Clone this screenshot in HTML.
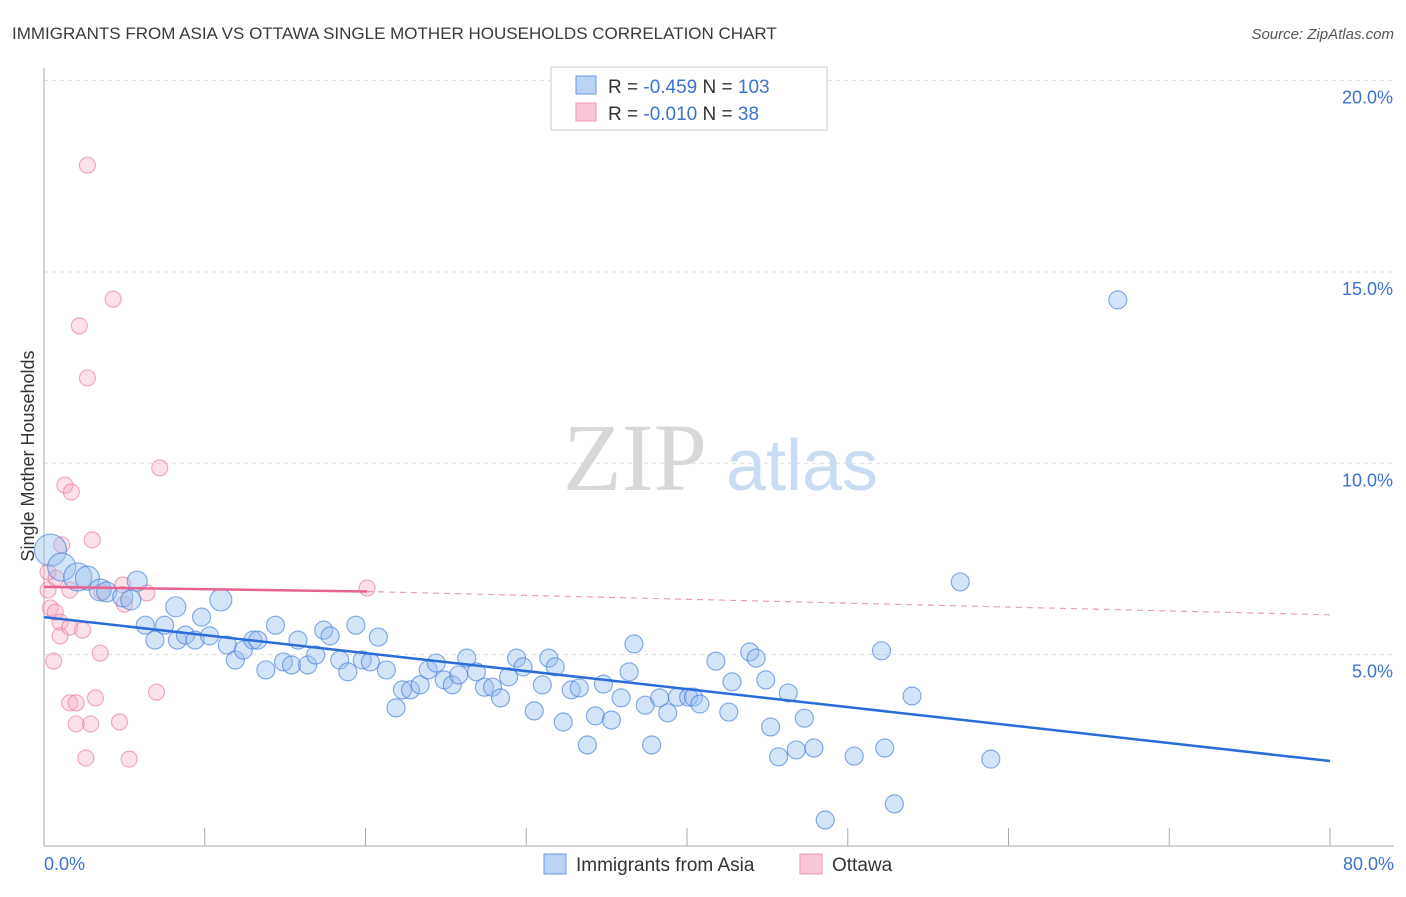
<!DOCTYPE html>
<html><head><meta charset="utf-8"><style>
body{margin:0;background:#fff;font-family:"Liberation Sans",sans-serif}
</style></head><body>
<svg id="c" width="1406" height="892" xmlns="http://www.w3.org/2000/svg" font-family="Liberation Sans, sans-serif">
<text x="12" y="39" font-size="17" fill="#3a3a3a">IMMIGRANTS FROM ASIA VS OTTAWA SINGLE MOTHER HOUSEHOLDS CORRELATION CHART</text>
<text x="1394" y="39" font-size="15" fill="#555" font-style="italic" text-anchor="end">Source: ZipAtlas.com</text>
<g id="grid"></g>
<text x="635" y="490" font-size="96" fill="#d8d8d8" font-family="Liberation Serif, serif" text-anchor="middle">ZIP</text>
<text x="802" y="490" font-size="72" fill="#c9dcf2" text-anchor="middle">atlas</text>
<g id="pts"></g>
<g id="lines"></g>
<text transform="translate(34,456) rotate(-90)" font-size="18" fill="#333" text-anchor="middle">Single Mother Households</text>
<text x="44" y="870" font-size="18" fill="#3b73d1">0.0%</text>
<text x="1394" y="870" font-size="18" fill="#3b73d1" text-anchor="end">80.0%</text>
<g>
<rect x="551" y="67" width="276" height="63" fill="#fff" stroke="#ccc"/>
<rect x="576" y="76" width="20" height="18" fill="#b8d3f5" stroke="#6a9be0"/>
<rect x="576" y="103" width="20" height="18" fill="#f9c7d5" stroke="#ee9ab2"/>
<text x="608" y="93" font-size="19" fill="#333">R = <tspan fill="#3b73d1">-0.459</tspan>   N = <tspan fill="#3b73d1">103</tspan></text>
<text x="608" y="120" font-size="19" fill="#333">R = <tspan fill="#3b73d1">-0.010</tspan>   N =   <tspan fill="#3b73d1">38</tspan></text>
</g>
<g>
<rect x="544" y="854" width="22" height="20" fill="#b8d3f5" stroke="#6a9be0"/>
<text x="576" y="871" font-size="19" fill="#333">Immigrants from Asia</text>
<rect x="800" y="854" width="22" height="20" fill="#f9c7d5" stroke="#ee9ab2"/>
<text x="832" y="871" font-size="19" fill="#333">Ottawa</text>
</g>
</svg>
<script>
const yTicks=[5,10,15,20];
const yTickLabels=["5.0%","10.0%","15.0%","20.0%"];
const xTicks=[0,10,20,30,40,50,60,70,80];
const blueX=[0.4,1.1,2.1,2.7,3.5,3.9,4.9,5.4,5.8,6.3,6.9,7.5,8.2,8.3,8.8,9.4,9.8,10.3,11.0,11.4,11.9,12.4,13.0,13.3,13.8,14.4,14.9,15.4,15.8,16.4,16.9,17.4,17.8,18.4,18.9,19.4,19.8,20.3,20.8,21.3,21.9,22.3,22.8,23.4,23.9,24.4,24.9,25.4,25.8,26.3,26.9,27.4,27.9,28.4,28.9,29.4,29.8,30.5,31.0,31.4,31.8,32.3,32.8,33.3,33.8,34.3,34.8,35.3,35.9,36.4,36.7,37.4,37.8,38.3,38.8,39.4,40.1,40.4,40.8,41.8,42.6,42.8,43.9,44.3,44.9,45.2,45.7,46.3,46.8,47.3,47.9,48.6,50.4,52.1,52.3,52.9,54.0,57.0,58.9,66.8];
const blueY=[7.73,7.29,7.03,7.0,6.69,6.64,6.51,6.43,6.92,5.77,5.38,5.77,6.25,5.38,5.51,5.38,5.98,5.49,6.43,5.25,4.86,5.12,5.38,5.38,4.6,5.77,4.81,4.73,5.38,4.73,4.99,5.64,5.49,4.86,4.55,5.77,4.86,4.81,5.46,4.6,3.61,4.08,4.08,4.21,4.6,4.78,4.34,4.21,4.47,4.91,4.55,4.15,4.15,3.87,4.42,4.91,4.68,3.53,4.21,4.91,4.68,3.24,4.08,4.13,2.64,3.4,4.23,3.29,3.87,4.55,5.28,3.68,2.64,3.87,3.48,3.89,3.89,3.89,3.71,4.83,3.5,4.29,5.07,4.91,4.34,3.11,2.33,4.0,2.51,3.34,2.56,0.68,2.35,5.1,2.56,1.1,3.92,6.9,2.27,14.27];
const blueR=[16,14,14,12,11,10,10,10,10,9,9,9,10,9,9,9,9,9,11,9,9,9,9,9,9,9,9,9,9,9,9,9,9,9,9,9,9,9,9,9,9,9,9,9,9,9,9,9,9,9,9,9,9,9,9,9,9,9,9,9,9,9,9,9,9,9,9,9,9,9,9,9,9,9,9,9,9,9,9,9,9,9,9,9,9,9,9,9,9,9,9,9,9,9,9,9,9,9,9,9];
const pinkX=[2.7,4.3,2.2,2.7,7.2,1.3,1.7,3.0,1.1,0.25,0.75,0.25,0.4,0.7,1.6,1.0,1.0,1.6,2.4,3.5,0.6,4.9,5.0,6.4,3.6,20.1,7.0,3.2,1.6,2.0,2.0,2.9,4.7,2.6,5.3];
const pinkY=[17.79,14.29,13.59,12.23,9.88,9.43,9.25,8.0,7.87,7.16,7.0,6.69,6.22,6.11,6.69,5.85,5.49,5.72,5.64,5.04,4.83,6.82,6.32,6.61,6.64,6.74,4.02,3.87,3.74,3.74,3.19,3.19,3.24,2.3,2.27];
const blueLine=[[0,5.98],[80,2.22]];
const pinkLine=[[0,6.77],[20.1,6.65],[80,6.04]];
const sx=v=>44+v*16.075, sy=v=>846-v*38.27;
const NS="http://www.w3.org/2000/svg";
function mk(t,a,p){const e=document.createElementNS(NS,t);for(const k in a)e.setAttribute(k,a[k]);p.appendChild(e);return e;}
const g=document.getElementById('grid');
yTicks.forEach((v,i)=>{
 const l=mk('line',{x1:44,x2:1394,y1:sy(v),y2:sy(v),stroke:'#ddd','stroke-dasharray':'4,4'},g);
 
 
 const t=mk('text',{x:1393,y:sy(v)+23,'font-size':18,fill:'#3b73d1','text-anchor':'end'},g);
 t.textContent=yTickLabels[i];
 
 
});
const ax=mk('line',{x1:44,x2:44,y1:68,y2:846,stroke:'#aaa'},g);


const bx=mk('line',{x1:44,x2:1394,y1:846,y2:846,stroke:'#aaa'},g);


xTicks.forEach(v=>{const t=mk('line',{x1:sx(v),x2:sx(v),y1:828,y2:846,stroke:'#aaa'},g);
 
 });
const p=document.getElementById('pts');
pinkX.forEach((x,i)=>{const c=mk('circle',{cx:sx(x),cy:sy(pinkY[i]),r:8,fill:'rgba(246,170,192,0.35)',stroke:'rgba(232,120,155,0.6)','stroke-width':1.2},p);
 
 });
blueX.forEach((x,i)=>{const c=mk('circle',{cx:sx(x),cy:sy(blueY[i]),r:blueR[i]||9,fill:'rgba(150,190,240,0.4)',stroke:'rgba(60,120,215,0.6)','stroke-width':1.2},p);
 
 });
const L=document.getElementById('lines');
const bl=mk('line',{x1:sx(blueLine[0][0]),y1:sy(blueLine[0][1]),x2:sx(blueLine[1][0]),y2:sy(blueLine[1][1]),stroke:'#2a6dd8','stroke-width':2.5},L);


const pl=mk('line',{x1:sx(pinkLine[0][0]),y1:sy(pinkLine[0][1]),x2:sx(pinkLine[1][0]),y2:sy(pinkLine[1][1]),stroke:'#e8628d','stroke-width':2.5},L);


const pd=mk('line',{x1:sx(pinkLine[1][0]),y1:sy(pinkLine[1][1]),x2:sx(pinkLine[2][0]),y2:sy(pinkLine[2][1]),stroke:'#e8a0b5','stroke-width':1.2,'stroke-dasharray':'6,5'},L);


</script>
</body></html>
